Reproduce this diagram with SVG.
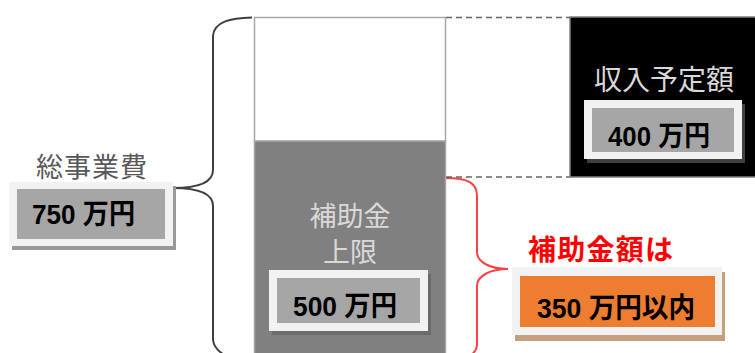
<svg xmlns="http://www.w3.org/2000/svg" width="755" height="353" viewBox="0 0 755 353">
<style>
.t{font-family:"Noto Sans CJK JP","Noto Sans",sans-serif;}
.num{font-family:"Liberation Sans","Noto Sans CJK JP",sans-serif;font-weight:bold;fill:#000;font-size:28px;}
.outer{fill:#f2f2f2;}
.inner{fill:#a6a6a6;}
</style>
<rect width="755" height="353" fill="#fff"/>
<g id="connectors" fill="none">
<path d="M252,17.5 C230,18 214,22 213,36 L213,170 C213,182 200,188 173,188 C200,188 213,194 213,206 L213,340 C214,348 220,353 228,357" stroke="#404040" stroke-width="2"/>
<path d="M446,178 C468,178 477,183 477,196 L477,252 C477,262 490,269 508,269 C490,269 477,276 477,286 L477,345 C477,350 474,353 470,356" stroke="#ff4040" stroke-width="2"/>
<path d="M446,17.5 H570 M446,177 H570" stroke="#666" stroke-width="1.5" stroke-dasharray="6 4"/>
</g>
<g id="total">
<text class="t" x="92" y="177" font-size="27" fill="#595959" text-anchor="middle" letter-spacing="1">総事業費</text>
<rect x="12" y="186" width="164" height="64" fill="#999"/>
<rect class="outer" x="9" y="182" width="164" height="64"/>
<rect class="inner" x="17" y="189" width="148" height="50"/>
<text class="num" x="32" y="224" textLength="103" lengthAdjust="spacingAndGlyphs">750 万円</text>
</g>
<g id="bar">
<rect x="254.5" y="17.5" width="191" height="124" fill="#fff" stroke="#a6a6a6" stroke-width="1.5"/>
<rect x="254.5" y="141" width="191" height="214" fill="#808080" stroke="#a6a6a6" stroke-width="1.5"/>
<text class="t" x="350" y="226" font-size="27" fill="#d9d9d9" text-anchor="middle">補助金</text>
<text class="t" x="350" y="262" font-size="27" fill="#d9d9d9" text-anchor="middle">上限</text>
<rect x="272" y="274" width="159" height="61" fill="#6b6b6b"/>
<rect class="outer" x="269" y="270" width="159" height="61"/>
<rect class="inner" x="277" y="278" width="143" height="45"/>
<text class="num" x="293" y="316" textLength="104" lengthAdjust="spacingAndGlyphs">500 万円</text>
</g>
<g id="income">
<rect x="570" y="17" width="186" height="160" fill="#000" stroke="#7f7f7f" stroke-width="1.5"/>
<text class="t" x="664" y="90" font-size="28" fill="#d9d9d9" text-anchor="middle">収入予定額</text>
<rect x="587" y="104" width="158" height="59" fill="#404040"/>
<rect class="outer" x="584" y="100" width="158" height="59"/>
<rect class="inner" x="592" y="108" width="142" height="44"/>
<text class="num" x="608" y="146" textLength="102" lengthAdjust="spacingAndGlyphs">400 万円</text>
</g>
<g id="subsidy">
<text class="t" x="528" y="260" font-size="28" font-weight="bold" fill="#ff0000" textLength="145">補助金額は</text>
<rect x="515" y="272" width="210" height="69" fill="#c4a07e"/>
<rect class="outer" x="512" y="267" width="210" height="68"/>
<rect x="520" y="276" width="195" height="51" fill="#ed7d31"/>
<text class="num" x="537" y="318" textLength="158" lengthAdjust="spacingAndGlyphs">350 万円以内</text>
</g>
</svg>
